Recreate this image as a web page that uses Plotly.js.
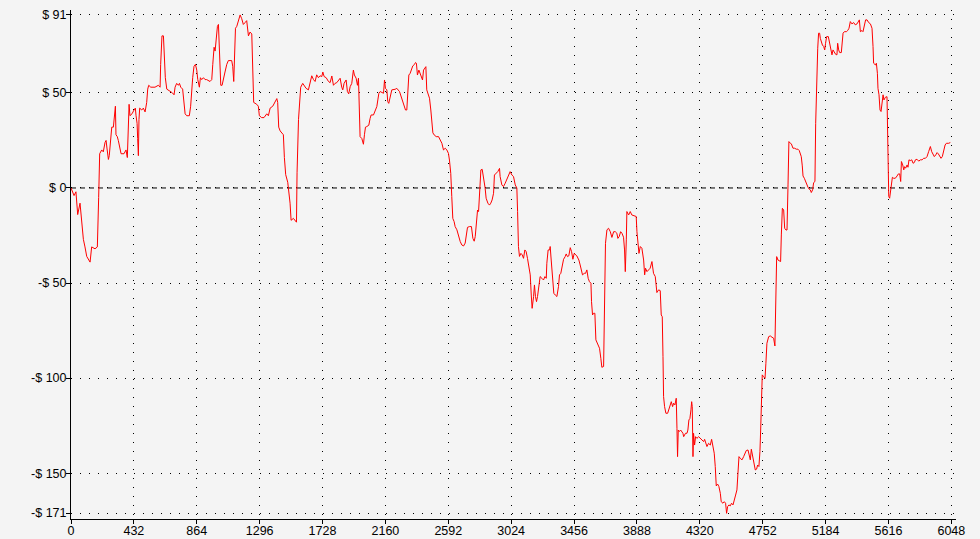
<!DOCTYPE html>
<html>
<head>
<meta charset="utf-8">
<script src="https://cdn.plot.ly/plotly-3.0.1.min.js"></script>
<style>html,body{margin:0;padding:0;background:#f4f4f4;}#chart{width:980px;height:539px;}</style>
</head>
<body>
<div id="chart"></div>
<script>
// Equity curve values: [trade index, profit in $]
const earlyRun = [[0,0],[21,-4],[34,-2],[46,-14],[62,-8],[73,-16],[85,-27],[96,-31],[108,-36],[131,-39],[142,-31],[165,-32],[181,-31],[190,-5],[197,18],[211,20],[222,19],[234,24],[241,25],[247,21],[257,15],[263,17],[273,24],[280,32],[291,32],[298,38],[305,43],[309,28],[318,27],[325,25],[332,22],[344,18],[364,18],[378,20],[387,16],[392,30],[399,44],[405,38],[419,39],[433,41],[442,42],[447,38],[454,34],[458,26],[463,17],[467,36],[472,42],[486,41],[497,42],[509,40],[520,45],[527,52],[534,54],[548,53],[577,53],[600,54],[612,53],[616,65],[625,80],[635,80],[639,72],[648,58],[658,52],[680,51],[697,50],[708,49],[715,53],[726,55],[738,54],[745,55],[754,53],[767,52],[777,46],[784,39],[795,38],[813,38],[822,43],[829,52],[836,58],[845,64],[855,65],[864,62],[871,57],[882,53],[889,58],[898,57],[910,58],[921,57],[932,57],[955,56],[967,57],[974,65],[983,74],[990,72],[997,78],[1006,85],[1013,86],[1020,69],[1029,54],[1038,54],[1045,57],[1052,59],[1058,61],[1070,65],[1081,67],[1104,67],[1111,64],[1118,56],[1123,67],[1130,84],[1139,85],[1150,88],[1162,91],[1173,89],[1184,86],[1196,87],[1207,88],[1219,80],[1230,82],[1242,81],[1249,62],[1255,45],[1276,44],[1287,43],[1294,38],[1310,37],[1326,37],[1345,39],[1356,38],[1368,42],[1386,43],[1402,45],[1414,47],[1420,45],[1427,32],[1437,30],[1448,29],[1459,28],[1466,16],[1475,7],[1489,3],[1496,-1],[1505,-8],[1512,-17],[1528,-16],[1549,-18],[1553,8],[1563,36],[1569,46]];

const middlePlateau = [[1578,53],[1592,55],[1601,54],[1615,52.4],[1631,51.6],[1643,55],[1654,59],[1666,57],[1677,56],[1688,59.5],[1700,58],[1711,59],[1723,58.6],[1730,61],[1739,58.6],[1753,58],[1769,56],[1780,55.4],[1792,58.9],[1803,54],[1814,55],[1826,55.4],[1837,56.8],[1849,57.7],[1860,53],[1867,51.6],[1876,55],[1890,56.8],[1899,50.7],[1908,49.5],[1918,53.3],[1929,55],[1940,62],[1947,59.4],[1959,57.7],[1968,54],[1975,57.7],[1982,41.9],[1986,27],[1998,26],[2009,23],[2016,28],[2023,32],[2032,32.3],[2046,33],[2055,36.6],[2062,38.4],[2078,38.4],[2089,41],[2101,42.8],[2108,46.3],[2115,49.8],[2124,50.7],[2135,50.2],[2147,49.8],[2154,56.8],[2160,52.4],[2170,51.6],[2176,45.4],[2183,44.5],[2192,47.2],[2204,51.6],[2227,51.9],[2238,52.4],[2257,50.7],[2268,48],[2280,45.4],[2289,41.9],[2298,41],[2307,41],[2314,49.8],[2321,59.4],[2330,60.3],[2337,62],[2348,64.2],[2360,65],[2367,66],[2373,65.6],[2380,59.4],[2390,62],[2399,60.3],[2406,58.6],[2415,56.8],[2422,62],[2428,63],[2438,63.8],[2444,51.6],[2454,49.8],[2463,47.2],[2472,41],[2479,35.8],[2486,29],[2495,27.9],[2509,27],[2525,27],[2536,25.3],[2548,23.5],[2559,20],[2571,20.9],[2582,20],[2593,18.2],[2600,14.7],[2609,7.7],[2616,-4.5],[2623,-16],[2632,-17.7],[2639,-20.3],[2651,-22],[2662,-25.6],[2674,-28.2],[2685,-30],[2697,-30.5],[2708,-29],[2715,-24.7],[2724,-20.7],[2738,-20.3],[2751,-20.3],[2761,-26.5],[2770,-28],[2777,-25.6],[2784,-17.7],[2793,-11.6],[2800,-12.4],[2806,-1],[2816,9.5],[2825,9.8],[2834,6],[2845,0],[2852,-5.4],[2864,-8],[2875,-9],[2884,-8],[2893,-6.3],[2903,-2.8],[2909,6.8],[2921,7.7],[2932,8.6],[2944,10.3],[2948,6],[2960,1.6],[2971,0.7],[2983,2.5],[2994,4.6],[3006,6.8],[3017,8.6],[3029,6.8],[3040,6],[3052,1.6],[3063,0]];

const slideDown = [[3068,-12.4],[3074,-30.8],[3081,-36],[3091,-34.4],[3100,-35.2],[3109,-37],[3118,-32.6],[3127,-33.5],[3136,-37],[3146,-41.4],[3155,-45.7],[3162,-56.3],[3168,-63.3],[3178,-57.1],[3184,-51],[3191,-57.1],[3198,-59.8],[3205,-57.1],[3214,-51],[3223,-46.6],[3235,-47.5],[3246,-48.4],[3256,-46.6],[3265,-47.5],[3269,-39.6],[3278,-32.6],[3288,-32.6],[3292,-30.8],[3299,-37.9],[3308,-48.4],[3317,-55.4],[3327,-56.3],[3338,-57.1],[3349,-51.9],[3356,-45.7],[3365,-44.9],[3375,-39.6],[3384,-37.5],[3395,-36.1],[3402,-34.7],[3411,-36.1],[3420,-35.7],[3430,-31.4],[3439,-33.5],[3448,-37.5],[3457,-34.4],[3475,-35.7],[3489,-37.9],[3498,-40.5],[3507,-43.1],[3514,-45.7],[3526,-44.9],[3535,-44.9],[3544,-43.1],[3553,-47.5],[3562,-49.3],[3572,-50.1],[3576,-59.8],[3583,-66.8],[3590,-65.9],[3599,-65.9],[3606,-79.9],[3613,-81.3],[3622,-82.6],[3631,-84.3],[3640,-89.6],[3647,-94.3],[3659,-93.9],[3666,-65.9],[3672,-29.1],[3682,-22],[3693,-21.2],[3705,-23],[3716,-26],[3728,-23],[3739,-23],[3750,-23.8],[3757,-26.5],[3766,-25.6],[3776,-23],[3785,-23.8],[3796,-25.9],[3803,-32.6],[3808,-44],[3815,-27.3],[3819,-12.4],[3831,-14.2],[3842,-12.4],[3853,-14.2],[3865,-14.7],[3883,-15],[3888,-23],[3895,-28.2],[3902,-34.4],[3911,-30.8],[3922,-31.7],[3934,-37.9],[3941,-45.7],[3947,-42.2],[3957,-44],[3968,-43.1],[3979,-42.2],[3991,-38.7],[4002,-44.9],[4014,-46.6],[4025,-55],[4037,-53.6],[4048,-54],[4055,-66.8],[4062,-67.7],[4067,-88.7]];

const troughRecovery = [[4071,-109.7],[4078,-115],[4087,-118.5],[4099,-118.5],[4108,-115.9],[4117,-114.1],[4124,-112.4],[4133,-115],[4140,-113.2],[4149,-114.1],[4158,-110.6],[4163,-126.4],[4167,-141.3],[4172,-127.3],[4179,-128.1],[4188,-127.3],[4197,-128.1],[4204,-129],[4209,-130.8],[4216,-129.9],[4222,-129],[4232,-129],[4238,-127.3],[4245,-122],[4252,-121.2],[4259,-116.7],[4264,-112.4],[4268,-115],[4273,-141.3],[4277,-129],[4284,-135.2],[4291,-130.8],[4300,-131.7],[4312,-130.8],[4323,-131.7],[4335,-132.5],[4346,-133.4],[4353,-132.2],[4360,-134.3],[4369,-136],[4380,-134.3],[4392,-135.2],[4401,-132.2],[4410,-136.9],[4419,-139.5],[4426,-146.5],[4433,-156.7],[4442,-155.7],[4451,-157],[4461,-160.6],[4467,-165],[4479,-165.8],[4488,-165],[4497,-165.8],[4504,-171.1],[4511,-167.6],[4520,-166.7],[4529,-167.2],[4538,-165.8],[4548,-166.7],[4557,-163.2],[4566,-161.5],[4575,-158.8],[4582,-149.2],[4589,-141.3],[4598,-142.2],[4610,-143],[4621,-141.3],[4630,-139.5],[4639,-138.1],[4651,-137.8],[4660,-140.4],[4667,-143],[4674,-137.4],[4683,-141.3],[4692,-144.8],[4701,-148.3],[4710,-147.9],[4717,-145.7],[4726,-146.5],[4733,-138.7],[4738,-127.3],[4743,-115],[4749,-98.3],[4758,-99.2],[4768,-100.1],[4774,-92.2],[4781,-81.7],[4793,-78.2],[4804,-77.8],[4816,-78.5],[4827,-79],[4836,-83.1],[4841,-58.9],[4848,-36.1],[4857,-37.9],[4868,-38.2],[4875,-38.7],[4880,-24.7],[4887,-10.7],[4896,-11.6],[4903,-21.2],[4912,-22.1]];

const lateRally = [[4919,-22.1],[4926,1.6],[4932,24.4],[4942,23.5],[4949,23.2],[4960,20.9],[4971,20.9],[4983,20.4],[4994,20.4],[5003,19.7],[5010,18.3],[5017,16.5],[5024,11.6],[5029,6.3],[5038,5.1],[5047,3.4],[5054,1.1],[5063,0.4],[5072,-0.7],[5079,-1],[5086,-2.4],[5095,-1],[5102,2.8],[5111,3.4],[5116,34],[5123,64.7],[5130,73.5],[5136,81.4],[5143,81.4],[5148,78.7],[5155,77],[5162,75.2],[5171,74.4],[5178,72.6],[5184,76.1],[5191,79.6],[5203,79.6],[5212,76.1],[5221,74.4],[5228,70],[5235,72.6],[5244,71.2],[5253,70.3],[5262,70],[5267,76.1],[5274,72.6],[5281,71.2],[5292,71.2],[5297,77],[5304,81.4],[5313,82.2],[5327,82.2],[5336,82.8],[5345,84],[5354,87.5],[5365,86.3],[5377,87],[5388,85.8],[5400,86.3],[5409,87.5],[5416,88.4],[5423,82.2],[5434,82.8],[5441,82.2],[5450,84.9],[5459,88.4],[5469,88.4],[5480,87],[5492,86.3],[5503,84],[5510,74.4],[5514,65.6],[5526,64.7],[5533,65.6],[5540,60.3],[5544,52.4],[5551,49],[5558,41],[5565,40.2],[5572,44.6],[5579,49],[5585,46.3],[5595,47.7],[5606,48],[5613,21.8],[5618,-4.5],[5624,-5.4],[5629,-2.4],[5636,2.5],[5643,5.6],[5652,5.1],[5663,5.1],[5675,6.3],[5684,7.4],[5693,7.4],[5700,3.4],[5705,13.9],[5714,12.1],[5721,9.5],[5727,11.2],[5734,10.4],[5744,12.1],[5750,10.9],[5757,14.8],[5766,14.4],[5776,14.8],[5785,13],[5794,13.4],[5801,14.8],[5812,15.1],[5824,14.1],[5835,14.8],[5847,14.8],[5858,15.6],[5870,15.6],[5881,16.5],[5892,19.1],[5904,21.8],[5913,19.1],[5922,17.4],[5931,16.5],[5941,17.4],[5950,18.6],[5959,17.9],[5968,16.9],[5977,15.6],[5986,16.5],[5995,19.1],[6005,22.6],[6014,23.5],[6030,23.5],[6041,23.9]];

const xTickVals = [0,432,864,1296,1728,2160,2592,3024,3456,3888,4320,4752,5184,5616,6048];
const yTickVals = [91,50,0,-50,-100,-150,-171];
const yTickText = ['$ 91','$ 50','$ 0','-$ 50','-$ 100','-$ 150','-$ 171'];

const allPoints = [].concat(earlyRun, middlePlateau, slideDown, troughRecovery, lateRally);
const xs = allPoints.map(p => p[0]);
const ys = allPoints.map(p => p[1]);

const font = {family: 'Liberation Sans, Arial, sans-serif', size: 12.5, color: '#000'};
const axisCommon = {
  ticks: 'outside', ticklen: 4, tickwidth: 1, tickcolor: '#000',
  showline: true, linecolor: '#000', linewidth: 1,
  showgrid: true, gridcolor: '#000', gridwidth: 1, griddash: '1px,8px',
  zeroline: false, tickfont: font, fixedrange: true
};

const data = [{
  x: xs, y: ys, type: 'scatter', mode: 'lines',
  line: {color: '#ff0000', width: 1}, hoverinfo: 'skip'
}];

const layout = {
  width: 980, height: 539,
  margin: {l: 71, r: 24, t: 10, b: 20},
  paper_bgcolor: '#f4f4f4', plot_bgcolor: '#f4f4f4',
  showlegend: false, font: font,
  xaxis: Object.assign({}, axisCommon, {
    range: [0, 6080], tickmode: 'array', tickvals: xTickVals,
    ticktext: xTickVals.map(String), ticklabelstandoff: -4
  }),
  yaxis: Object.assign({}, axisCommon, {
    range: [-174.1, 93.6], tickmode: 'array', tickvals: yTickVals,
    ticktext: yTickText, ticklabelstandoff: -3
  }),
  shapes: [{
    type: 'line', xref: 'paper', x0: 0, x1: 1, yref: 'y', y0: 0, y1: 0,
    line: {color: '#000', width: 1, dash: '5px,4px'}, layer: 'below'
  }]
};

Plotly.newPlot('chart', data, layout, {staticPlot: true, displayModeBar: false});
</script>
</body>
</html>
